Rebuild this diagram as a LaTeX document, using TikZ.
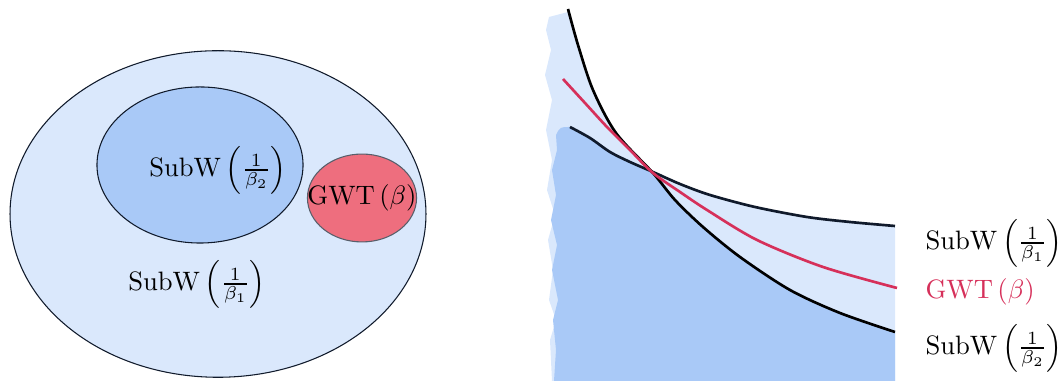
\documentclass[tikz,border=0pt]{standalone}
\usepackage{amsmath}
\usetikzlibrary{shapes.geometric}
\definecolor{ink}{HTML}{101A2B}
\definecolor{paleblue}{HTML}{DAE8FC}
\definecolor{midblue}{HTML}{A9C9F7}
\definecolor{rose}{HTML}{EE6E7E}
\definecolor{crimson}{HTML}{D6305A}

\begin{document}
\begin{tikzpicture}[x=0.0132cm,y=-0.0132cm,
  set/.style={ellipse,draw=ink,inner sep=0pt},
  curve/.style={line width=1pt,ink},
  tag/.style={anchor=west,inner sep=0pt}]
\useasboundingbox (0,0) rectangle (1062,381);
% left: nested classes
\node[set,fill=paleblue,minimum width=5.49cm,minimum height=4.31cm] (outer) at (218,214) {};
\node[set,fill=midblue,minimum width=2.72cm,minimum height=2.06cm] (inner) at (200,165) {};
\node[set,draw=ink!70,fill=rose,minimum width=1.44cm,minimum height=1.16cm] (gwt) at (362,198) {};
\node (innerlbl) at (218,170) {$\mathrm{SubW}\left(\frac{1}{\beta_2}\right)$};
\node (gwtlbl) at (gwt) {$\mathrm{GWT}\left(\beta\right)$};
\node (outerlbl) at (197,284) {$\mathrm{SubW}\left(\frac{1}{\beta_1}\right)$};
% right: shaded regions
\fill[paleblue] (549,17) -- (568,12)
  -- plot[smooth] coordinates {(568,9) (578,45) (593,90) (616,133) (653,173)}
  -- plot[smooth] coordinates {(653,172) (680,184) (710,195) (755,207) (807,217) (850,222) (895,226)}
  -- (895,381) -- (552,381) -- (550,340) -- (556,320) -- (549,300) -- (553,270) -- (548,240)
  -- (555,215) -- (547,190) -- (552,160) -- (546,130) -- (552,100) -- (545,75) -- (551,50)
  -- (546,30) -- cycle;
\fill[midblue] (556,135) .. controls (560,127) .. (570,127)
  -- plot[smooth] coordinates {(570,127) (590,138) (610,152) (630,162) (653,172)}
  -- plot[smooth] coordinates {(653,173) (675,200) (703,227) (740,257) (790,290) (840,313) (895,332)}
  -- (895,381) -- (554,381) -- (556,350) -- (553,320) -- (558,300) -- (552,270) -- (557,245)
  -- (551,220) -- (556,195) -- (552,170) -- (557,150) -- cycle;
% right: curves
\draw[curve,black] plot[smooth] coordinates {(568,9) (578,45) (593,90) (616,133) (653,173) (675,200) (703,227) (740,257) (790,290) (840,313) (895,332)};
\draw[curve] plot[smooth] coordinates {(570,127) (590,138) (610,152) (630,162) (653,172) (680,184) (710,195) (755,207) (807,217) (850,222) (895,226)};
\draw[curve,crimson] plot[smooth] coordinates {(563,79) (585,103) (607,127) (630,150) (653,173) (680,192) (707,210) (757,240) (823,267) (897,288)};
\node[tag] (lblone) at (925,243) {$\mathrm{SubW}\left(\frac{1}{\beta_1}\right)$};
\node[tag,text=crimson] (lblgwt) at (925,292) {$\mathrm{GWT}\left(\beta\right)$};
\node[tag] (lbltwo) at (925,348) {$\mathrm{SubW}\left(\frac{1}{\beta_2}\right)$};
\end{tikzpicture}
\end{document}
